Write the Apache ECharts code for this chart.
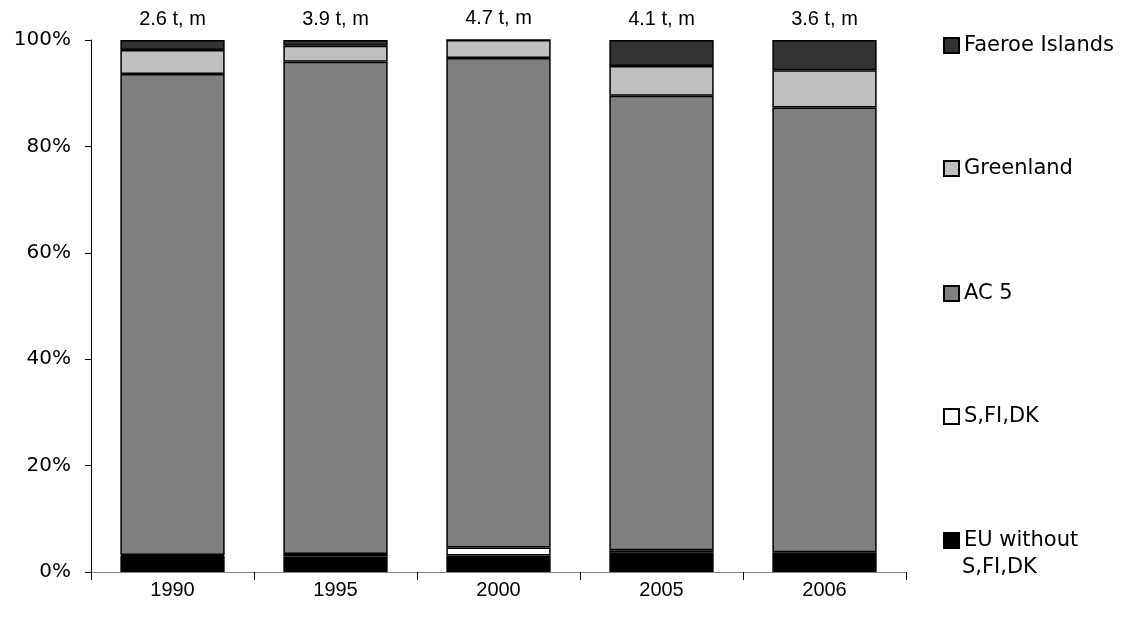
<!DOCTYPE html>
<html>
<head>
<meta charset="utf-8">
<script src="https://cdn.jsdelivr.net/npm/echarts@6/dist/echarts.min.js"></script>
<style>
  html, body { margin: 0; padding: 0; background: #fff; }
  #chart { width: 1138px; height: 622px; }
</style>
</head>
<body>
<div id="chart"></div>
<script>
// Years on the category axis
const years = ['1990', '1995', '2000', '2005', '2006'];

// Share of each group, percent of the yearly total
const euWithout = [3.0, 2.9, 3.1, 3.6, 3.2];
const sFiDk     = [0.2, 0.5, 1.5, 0.5, 0.5];
const ac5       = [90.4, 92.5, 92.0, 85.4, 83.6];
const greenland = [4.5, 3.0, 3.4, 5.6, 7.0];
const faeroe    = [1.9, 1.1, 0.0, 4.9, 5.7];

// Yearly totals printed above the bars
const totals = ['2.6 t, m', '3.9 t, m', '4.7 t, m', '4.1 t, m', '3.6 t, m'];

const yTicks = [0, 20, 40, 60, 80, 100];

const FONT = 'Liberation Sans, Arial, sans-serif';
const WIDE = 'DejaVu Sans, Verdana, sans-serif';
const chart = echarts.init(document.getElementById('chart'), null, { renderer: 'canvas' });

const barStyle = (color) => ({ color: color, borderColor: '#000', borderWidth: 1.5 });

function makeSeries(name, data, color, extra) {
  return Object.assign({
    name: name,
    type: 'bar',
    stack: 'total',
    data: data,
    barCategoryGap: '36%',
    itemStyle: barStyle(color),
    emphasis: { disabled: true },
    animation: false
  }, extra || {});
}

const legendText = { fontFamily: WIDE, fontSize: 21, color: '#000' };
function legendAt(name, top) {
  return {
    data: [name],
    left: 938,
    top: top,
    orient: 'vertical',
    itemWidth: 15,
    itemHeight: 15,
    itemGap: 0,
    icon: 'rect',
    selectedMode: false,
    textStyle: legendText,
    formatter: (n) => n === 'EU without S,FI,DK' ? 'EU without' : n
  };
}

chart.setOption({
  backgroundColor: '#fff',
  animation: false,
  grid: { left: 91, right: 232, top: 40, bottom: 50, containLabel: false },
  legend: [
    legendAt('Faeroe Islands', 30),
    legendAt('Greenland', 153),
    legendAt('AC 5', 278),
    legendAt('S,FI,DK', 401),
    legendAt('EU without S,FI,DK', 525)
  ],
  graphic: [{
    type: 'text',
    left: 962,
    top: 557,
    style: { text: 'S,FI,DK', font: '21px ' + WIDE, fill: '#000' }
  }],
  xAxis: {
    type: 'category',
    data: years,
    axisLine: { lineStyle: { color: '#808080', width: 1 } },
    axisTick: { show: true, length: 8, alignWithLabel: false, lineStyle: { color: '#000' } },
    axisLabel: { fontFamily: FONT, fontSize: 20, color: '#000', margin: 8 }
  },
  yAxis: {
    type: 'value',
    min: yTicks[0],
    max: yTicks[yTicks.length - 1],
    interval: 20,
    splitLine: { show: false },
    axisLine: { show: true, lineStyle: { color: '#000', width: 1 } },
    axisTick: { show: true, length: 6, lineStyle: { color: '#000' } },
    axisLabel: { fontFamily: WIDE, fontSize: 20, color: '#000', margin: 20, formatter: '{value}%' }
  },
  series: [
    makeSeries('EU without S,FI,DK', euWithout, '#000000'),
    makeSeries('S,FI,DK', sFiDk, '#ffffff'),
    makeSeries('AC 5', ac5, '#808080'),
    makeSeries('Greenland', greenland, '#c0c0c0'),
    makeSeries('Faeroe Islands', faeroe, '#333333', {
      label: {
        show: true,
        position: 'top',
        distance: 11,
        fontFamily: FONT,
        fontSize: 20,
        color: '#000',
        formatter: (p) => totals[p.dataIndex]
      }
    })
  ]
});
</script>
</body>
</html>
